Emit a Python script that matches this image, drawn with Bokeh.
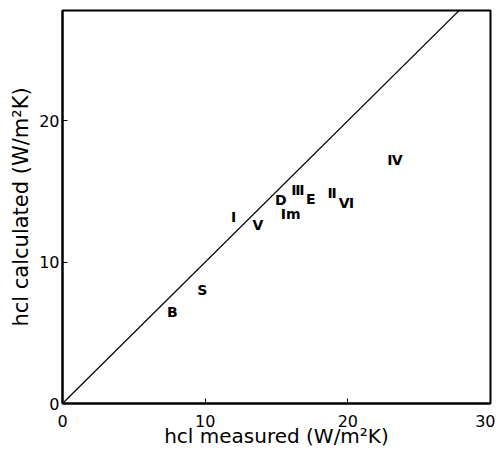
from bokeh.plotting import figure
from bokeh.models import Range1d, FixedTicker, ColumnDataSource
from bokeh.core.properties import value
from bokeh.embed import file_html
from bokeh.resources import INLINE

labels = ["B", "S", "I", "\u2164", "D", "Im", "\u2162", "E", "\u2161", "\u2165", "\u2163"]
measured = [7.7, 9.8, 12.0, 13.7, 15.3, 16.0, 16.5, 17.4, 18.9, 19.9, 23.3]
calculated = [6.5, 8.0, 13.2, 12.6, 14.4, 13.4, 15.1, 14.5, 14.9, 14.2, 17.2]
line_x = [0, 30]
line_y = [0, 30]
x_ticks = [0, 10, 20, 30]
y_ticks = [0, 10, 20]

FONT = "DejaVu Sans"

p = figure(width=495, height=450, output_backend="svg", toolbar_location=None,
           x_range=Range1d(0, 30), y_range=Range1d(0, 27.8),
           min_border_left=62, min_border_right=5, min_border_top=10, min_border_bottom=45)
p.grid.visible = False
p.outline_line_color = "black"
p.outline_line_width = 2
p.background_fill_color = "white"
p.border_fill_color = "white"

p.xaxis.ticker = FixedTicker(ticks=x_ticks)
p.yaxis.ticker = FixedTicker(ticks=y_ticks)
for ax in (p.xaxis, p.yaxis):
    ax.axis_line_width = 2
    ax.major_tick_in = 5
    ax.major_tick_out = 0
    ax.minor_tick_line_color = None
    ax.major_label_text_font = FONT
    ax.major_label_text_font_size = "16px"
    ax.major_label_text_color = "black"
    ax.axis_label_text_font = FONT
    ax.axis_label_text_font_style = "normal"
    ax.axis_label_text_color = "black"
p.xaxis.axis_label = "hcl measured (W/m\u00b2K)"
p.yaxis.axis_label = "hcl calculated (W/m\u00b2K)"
p.xaxis.axis_label_text_font_size = "20px"
p.yaxis.axis_label_text_font_size = "21px"
p.xaxis.major_label_standoff = 11
p.xaxis.axis_label_standoff = -6
p.yaxis.major_label_standoff = 3
p.yaxis.axis_label_standoff = 3

p.line(line_x, line_y, line_color="black", line_width=1.2)

src = ColumnDataSource(dict(x=measured, y=calculated, t=labels))
p.text(x="x", y="y", text="t", source=src, text_align="center", text_baseline="middle",
       text_font=value(FONT), text_font_size="14px", text_font_style="bold", text_color="black")

open("out.html", "w").write(file_html(p, INLINE))
